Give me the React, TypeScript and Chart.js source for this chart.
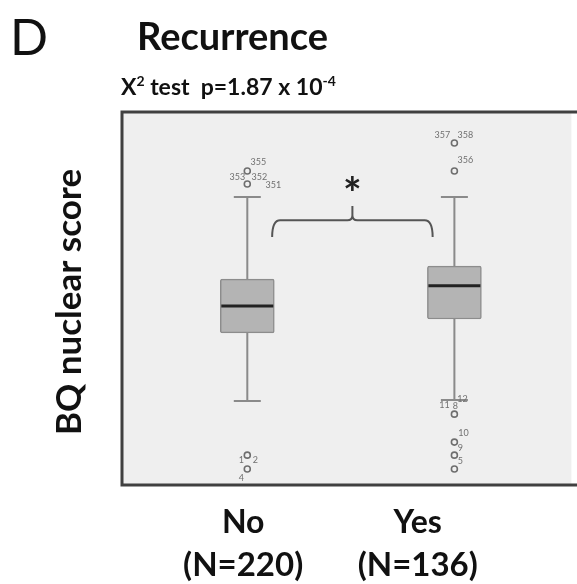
import React, { useEffect, useRef } from "react";
import { Chart, registerables } from "chart.js";

Chart.register(...registerables);

// ---- data ----
const groups = ["No", "Yes"];
const groupCounts = ["(N=220)", "(N=136)"];
const groupX = [0, 1];
const groupLabelX = [-0.02, 0.823];
const whiskerLow = [22.5, 22.8];
const q1 = [40.8, 44.5];
const median = [48.0, 53.4];
const q3 = [55.2, 58.7];
const whiskerHigh = [77.2, 77.2];
const outliersNo = [84.2, 80.7, 8.0, 4.3];
const outliersYes = [91.7, 84.2, 19.0, 11.5, 8.0, 4.3];
const outlierCaseIds = [
  { g: 0, v: 84.2, t: "355", dx: 11, dy: -9 },
  { g: 0, v: 84.2, t: "353", dx: -10, dy: 6 },
  { g: 0, v: 84.2, t: "352", dx: 12, dy: 6 },
  { g: 0, v: 80.7, t: "351", dx: 26, dy: 1 },
  { g: 0, v: 8.0, t: "1", dx: -6, dy: 5 },
  { g: 0, v: 8.0, t: "2", dx: 8, dy: 5 },
  { g: 0, v: 4.3, t: "4", dx: -6, dy: 9 },
  { g: 1, v: 91.7, t: "357", dx: -12, dy: -8 },
  { g: 1, v: 91.7, t: "358", dx: 11, dy: -8 },
  { g: 1, v: 84.2, t: "356", dx: 11, dy: -11 },
  { g: 1, v: 19.0, t: "11", dx: -10, dy: -9 },
  { g: 1, v: 19.0, t: "12", dx: 8, dy: -15 },
  { g: 1, v: 19.0, t: "8", dx: 1, dy: -8 },
  { g: 1, v: 11.5, t: "10", dx: 9, dy: -9 },
  { g: 1, v: 11.5, t: "9", dx: 6, dy: 6 },
  { g: 1, v: 8.0, t: "5", dx: 6, dy: 6 },
];
const bracketX = [0.12, 0.895];
const bracketY = 71.0;
const bracketEndY = 66.5;
const bracketTickY = 74.8;
const starY = 80.4;

const FONT = "Lato, 'Open Sans', sans-serif";

const boxPlotPlugin = {
  id: "boxExtras",
  beforeDraw(chart: any) {
    const { ctx, chartArea: a } = chart;
    ctx.save();
    ctx.fillStyle = "#ffffff";
    ctx.fillRect(0, 0, chart.width, chart.height);
    ctx.fillStyle = "#efefef";
    ctx.fillRect(a.left, a.top, a.right - a.left, a.bottom - a.top);
    ctx.restore();
  },
  beforeDatasetsDraw(chart: any) {
    const { ctx } = chart;
    const xs = chart.scales.x;
    const ys = chart.scales.y;
    ctx.save();
    ctx.strokeStyle = "#8a8a8a";
    ctx.lineWidth = 2;
    groupX.forEach((gx, i) => {
      const px = xs.getPixelForValue(gx);
      ctx.beginPath();
      ctx.moveTo(px, ys.getPixelForValue(q3[i]));
      ctx.lineTo(px, ys.getPixelForValue(whiskerHigh[i]));
      ctx.moveTo(px, ys.getPixelForValue(q1[i]));
      ctx.lineTo(px, ys.getPixelForValue(whiskerLow[i]));
      const capW = 27;
      ctx.moveTo(px - capW / 2, ys.getPixelForValue(whiskerHigh[i]));
      ctx.lineTo(px + capW / 2, ys.getPixelForValue(whiskerHigh[i]));
      ctx.moveTo(px - capW / 2, ys.getPixelForValue(whiskerLow[i]));
      ctx.lineTo(px + capW / 2, ys.getPixelForValue(whiskerLow[i]));
      ctx.stroke();
    });
    ctx.restore();
  },
  afterDatasetsDraw(chart: any) {
    const { ctx } = chart;
    const xs = chart.scales.x;
    const ys = chart.scales.y;
    ctx.save();
    // medians
    ctx.strokeStyle = "#222222";
    ctx.lineWidth = 3;
    groupX.forEach((gx, i) => {
      const px = xs.getPixelForValue(gx);
      const py = ys.getPixelForValue(median[i]);
      ctx.beginPath();
      ctx.moveTo(px - 26, py);
      ctx.lineTo(px + 26, py);
      ctx.stroke();
    });
    // outlier case ids
    ctx.fillStyle = "#707070";
    ctx.font = `9px ${FONT}`;
    ctx.textAlign = "center";
    ctx.textBaseline = "middle";
    outlierCaseIds.forEach((o) => {
      const px = xs.getPixelForValue(groupX[o.g]);
      const py = ys.getPixelForValue(o.v);
      ctx.fillText(o.t, px + o.dx, py + o.dy);
    });
    // bracket
    const l = xs.getPixelForValue(bracketX[0]);
    const r = xs.getPixelForValue(bracketX[1]);
    const c = (l + r) / 2;
    const yt = ys.getPixelForValue(bracketY);
    const ye = ys.getPixelForValue(bracketEndY);
    const yk = ys.getPixelForValue(bracketTickY);
    ctx.strokeStyle = "#555555";
    ctx.lineWidth = 2;
    ctx.beginPath();
    ctx.moveTo(l, ye);
    ctx.quadraticCurveTo(l, yt, l + 8, yt);
    ctx.lineTo(c - 5, yt);
    ctx.quadraticCurveTo(c, yt, c, yt - 5);
    ctx.lineTo(c, yk);
    ctx.moveTo(c, yt - 5);
    ctx.quadraticCurveTo(c, yt, c + 5, yt);
    ctx.lineTo(r - 8, yt);
    ctx.quadraticCurveTo(r, yt, r, ye);
    ctx.stroke();
    // asterisk
    ctx.fillStyle = "#222222";
    ctx.font = `bold 44px ${FONT}`;
    ctx.textAlign = "center";
    ctx.textBaseline = "middle";
    ctx.fillText("*", c, ys.getPixelForValue(starY) + 10);
    ctx.restore();
  },
  afterDraw(chart: any) {
    const { ctx, chartArea: a } = chart;
    const xs = chart.scales.x;
    ctx.save();
    // frame (left, top, bottom)
    ctx.strokeStyle = "#404040";
    ctx.lineWidth = 3;
    ctx.beginPath();
    ctx.moveTo(chart.width + 5, a.top);
    ctx.lineTo(a.left, a.top);
    ctx.lineTo(a.left, a.bottom);
    ctx.lineTo(chart.width + 5, a.bottom);
    ctx.stroke();

    ctx.fillStyle = "#111111";
    ctx.textBaseline = "alphabetic";
    // panel letter
    ctx.textAlign = "left";
    ctx.font = `50px ${FONT}`;
    ctx.fillText("D", 10, 55);
    // title
    ctx.font = `bold 38px ${FONT}`;
    ctx.fillText("Recurrence", 137, 50);
    // subtitle with superscripts
    let x = 121;
    const base = 95;
    const part = (t: string, size: number, dy: number) => {
      ctx.font = `bold ${size}px ${FONT}`;
      ctx.fillText(t, x, base + dy);
      x += ctx.measureText(t).width;
    };
    part("X", 23, 0);
    part("2", 14, -9);
    part(" test  p=1.87 x 10", 23, 0);
    part("-4", 14, -9);
    // y-axis title
    ctx.save();
    ctx.translate(81, 302);
    ctx.rotate(-Math.PI / 2);
    ctx.textAlign = "center";
    ctx.font = `bold 35px ${FONT}`;
    ctx.fillText("BQ nuclear score", 0, 0);
    ctx.restore();
    // group labels
    ctx.textAlign = "center";
    ctx.font = `bold 32px ${FONT}`;
    groups.forEach((g, i) => {
      const px = xs.getPixelForValue(groupLabelX[i]);
      ctx.fillText(g, px, 533);
      ctx.font = `bold 33px ${FONT}`;
      ctx.fillText(groupCounts[i], px, 576);
      ctx.font = `bold 32px ${FONT}`;
    });
    ctx.restore();
  },
};

export default function App() {
  const ref = useRef<HTMLCanvasElement>(null);
  useEffect(() => {
    if (!ref.current) return;
    const chart = new Chart(ref.current, {
      type: "bar",
      data: {
        datasets: [
          {
            type: "bar",
            data: groupX.map((gx, i) => ({ x: gx, y: [q1[i], q3[i]] })) as any,
            backgroundColor: "#b4b4b4",
            borderColor: "#8c8c8c",
            borderWidth: 1.5,
            borderSkipped: false,
            borderRadius: 2,
            barThickness: 54,
          } as any,
          {
            type: "scatter",
            data: [
              ...outliersNo.map((v) => ({ x: groupX[0], y: v })),
              ...outliersYes.map((v) => ({ x: groupX[1], y: v })),
            ],
            pointRadius: 3,
            pointBorderWidth: 1.6,
            borderColor: "#6e6e6e",
            backgroundColor: "rgba(0,0,0,0)",
          } as any,
        ],
      },
      options: {
        animation: false,
        responsive: true,
        maintainAspectRatio: false,
        layout: { padding: { left: 122, top: 112, right: 0, bottom: 99 } },
        plugins: { legend: { display: false }, tooltip: { enabled: false }, title: { display: false } },
        scales: {
          x: { type: "linear", min: -0.605, max: 1.565, display: false, offset: false },
          y: { type: "linear", min: 0, max: 100, display: false },
        },
      },
      plugins: [boxPlotPlugin],
    });
    return () => chart.destroy();
  }, []);
  return (
    <div style={{ position: "fixed", left: 0, top: 0, width: 577, height: 584, background: "#fff" }}>
      <canvas ref={ref} />
    </div>
  );
}
